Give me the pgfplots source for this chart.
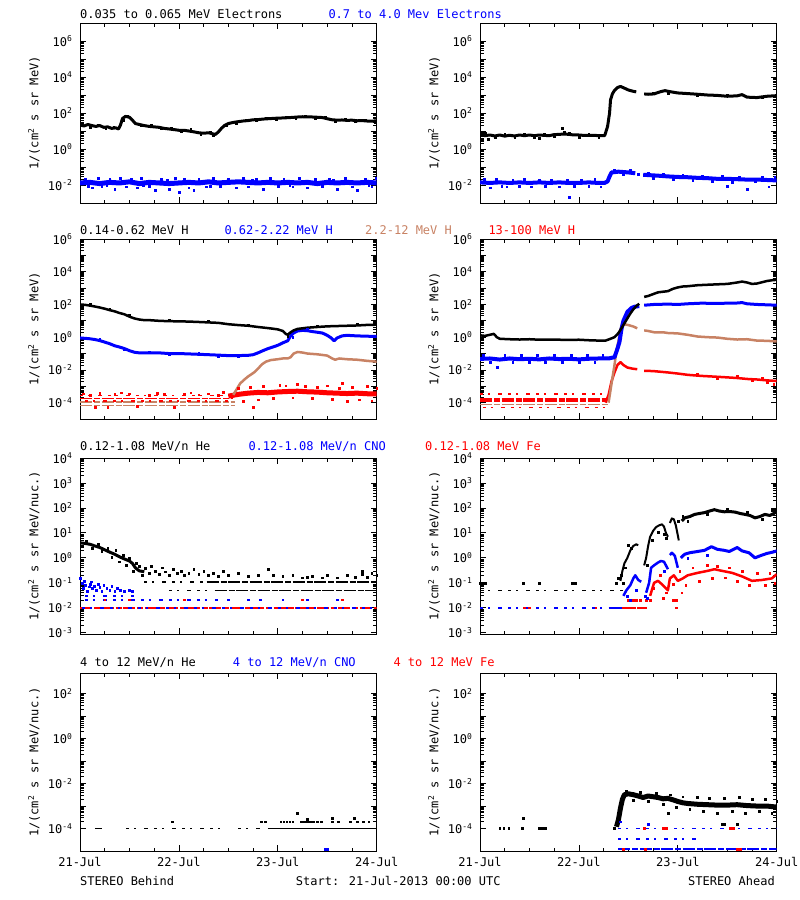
\documentclass[border=0pt]{standalone}
\usepackage{fontspec}
\setmainfont{DejaVu Sans Mono}
\usepackage{pgfplots}
\pgfplotsset{compat=1.18}
\definecolor{iblue}{RGB}{0,0,255}
\definecolor{ired}{RGB}{255,0,0}
\definecolor{ibrown}{RGB}{200,130,100}
\newcommand\TT{\fontsize{12}{14}\selectfont}
\newcommand\EE[1]{10\textsuperscript{#1}}
\pgfplotsset{
 every axis/.append style={scale only axis, width=296.7pt, anchor=north west,
  xmin=0, xmax=3,
  xtick={0,1,2,3}, minor xtick={0.25,0.5,0.75,1.25,1.5,1.75,2.25,2.5,2.75},
  tick align=inside, tick pos=both,
  major tick length=6pt, minor tick length=3.5pt,
  every tick/.append style={black, line width=0.8pt},
  axis line style={line width=0.9pt},
  yticklabel style={font=\TT, xshift=-4pt}},
}
\tikzset{
 mydots/.style={only marks, mark=square*, mark size=0.9pt, mark options={draw=none}},
 myband/.style={line width=#1, line join=round, mark=none},
 mysparse/.style={line width=1.8pt, dash pattern=on 3pt off 5pt on 2pt off 8pt on 4pt off 6pt, mark=none},
 mydense/.style={line width=1.8pt, dash pattern=on 12pt off 2pt on 6pt off 1.5pt, mark=none},
}
\begin{document}
\begin{tikzpicture}
\useasboundingbox (0,0) rectangle (800pt,-900pt);
% ---------- titles ----------
\node[anchor=base west, font=\TT, inner sep=0] at (80pt,-18.3pt) {0.035 to 0.065 MeV Electrons};
\node[anchor=base west, font=\TT, inner sep=0, iblue] at (328.3pt,-18.3pt) {0.7 to 4.0 Mev Electrons};
\node[anchor=base west, font=\TT, inner sep=0] at (80pt,-234.3pt) {0.14-0.62 MeV H};
\node[anchor=base west, font=\TT, inner sep=0, iblue] at (224.3pt,-234.3pt) {0.62-2.22 MeV H};
\node[anchor=base west, font=\TT, inner sep=0, ibrown] at (365pt,-234.3pt) {2.2-12 MeV H};
\node[anchor=base west, font=\TT, inner sep=0, ired] at (488.3pt,-234.3pt) {13-100 MeV H};
\node[anchor=base west, font=\TT, inner sep=0] at (80pt,-450pt) {0.12-1.08 MeV/n He};
\node[anchor=base west, font=\TT, inner sep=0, iblue] at (248.3pt,-450pt) {0.12-1.08 MeV/n CNO};
\node[anchor=base west, font=\TT, inner sep=0, ired] at (425pt,-450pt) {0.12-1.08 MeV Fe};
\node[anchor=base west, font=\TT, inner sep=0] at (80pt,-666.7pt) {4 to 12 MeV/n He};
\node[anchor=base west, font=\TT, inner sep=0, iblue] at (232.7pt,-666.7pt) {4 to 12 MeV/n CNO};
\node[anchor=base west, font=\TT, inner sep=0, ired] at (393.3pt,-666.7pt) {4 to 12 MeV Fe};
% ---------- y labels ----------
\foreach \xx in {34pt,434pt}{
 \node[rotate=90, font=\TT] at (\xx,-113pt) {1/(cm\textsuperscript{2} s sr MeV)};
 \node[rotate=90, font=\TT] at (\xx,-329pt) {1/(cm\textsuperscript{2} s sr MeV)};
 \node[rotate=90, font=\TT] at (\xx,-546pt) {1/(cm\textsuperscript{2} s sr MeV/nuc.)};
 \node[rotate=90, font=\TT] at (\xx,-762pt) {1/(cm\textsuperscript{2} s sr MeV/nuc.)};
}
% ---------- bottom texts ----------
\node[anchor=base west, font=\TT, inner sep=0] at (80pt,-885.7pt) {STEREO Behind};
\node[anchor=base west, font=\TT, inner sep=0] at (295.7pt,-885.7pt) {Start: 21-Jul-2013 00:00 UTC};
\node[anchor=base east, font=\TT, inner sep=0] at (775pt,-885.7pt) {STEREO Ahead};

% ================= ROW 1 LEFT =================
\begin{axis}[ymode=log, at={(80pt,-23pt)}, height=180pt, ymin=1e-3, ymax=1e7,
 ytick={1e-2,1e-1,1,1e1,1e2,1e3,1e4,1e5,1e6},
 yticklabels={\EE{-2},,\EE{0},,\EE{2},,\EE{4},,\EE{6}}, xticklabels={}]
\addplot[myband=5pt, iblue] coordinates {(0,0.013)(0.1,0.014)(0.2,0.012)(0.3,0.014)(0.4,0.013)(0.5,0.015)(0.6,0.012)(0.7,0.014)(0.8,0.013)(0.9,0.012)(1.0,0.013)(1.1,0.014)(1.2,0.013)(1.3,0.015)(1.4,0.013)(1.5,0.014)(1.6,0.015)(1.7,0.014)(1.8,0.013)(1.9,0.014)(2.0,0.013)(2.1,0.014)(2.2,0.013)(2.3,0.014)(2.4,0.012)(2.5,0.014)(2.6,0.013)(2.7,0.014)(2.8,0.013)(2.9,0.014)(3.0,0.013)};
\addplot[mydots, iblue] coordinates {(0.05,0.022)(0.12,0.007)(0.18,0.025)(0.22,0.009)(0.3,0.02)(0.35,0.006)(0.41,0.024)(0.47,0.008)(0.52,0.021)(0.58,0.007)(0.62,0.023)(0.7,0.009)(0.76,0.005)(0.82,0.02)(0.9,0.006)(0.96,0.025)(1.0,0.004)(1.05,0.02)(1.1,0.007)(1.15,0.005)(1.2,0.022)(1.28,0.008)(1.35,0.025)(1.42,0.009)(1.5,0.021)(1.58,0.007)(1.65,0.024)(1.7,0.008)(1.78,0.02)(1.85,0.006)(1.92,0.023)(2.0,0.009)(2.06,0.021)(2.15,0.008)(2.22,0.024)(2.3,0.007)(2.38,0.02)(2.45,0.009)(2.52,0.022)(2.6,0.006)(2.68,0.024)(2.75,0.008)(2.8,0.005)(2.88,0.021)(2.95,0.008)(2.99,0.025)(0.08,0.009)(0.27,0.01)(0.64,0.01)(0.88,0.018)(1.32,0.009)(1.74,0.018)(2.12,0.01)(2.56,0.018)(2.92,0.01)};
\addplot[myband=3pt, black] coordinates {(0,22)(0.04,19)(0.08,23)(0.12,20)(0.16,18)(0.2,20)(0.24,16)(0.28,17)(0.32,14)(0.36,15)(0.39,13)(0.41,22)(0.43,50)(0.46,65)(0.5,58)(0.53,40)(0.56,26)(0.6,23)(0.65,20)(0.7,18)(0.75,17)(0.8,16)(0.85,14)(0.9,13)(0.95,12)(1.0,11)(1.05,11)(1.1,10)(1.15,9)(1.2,8)(1.25,7.5)(1.3,8)(1.34,7)(1.37,6.5)(1.4,9)(1.43,14)(1.46,20)(1.5,26)(1.55,30)(1.6,33)(1.65,36)(1.7,38)(1.75,42)(1.8,43)(1.85,46)(1.9,48)(1.95,50)(2.0,52)(2.05,53)(2.1,55)(2.15,57)(2.2,60)(2.25,62)(2.3,61)(2.35,60)(2.4,58)(2.45,56)(2.5,48)(2.55,42)(2.6,40)(2.65,41)(2.7,39)(2.75,40)(2.8,37)(2.85,38)(2.9,36)(2.95,35)(3.0,37)};
\addplot[mydots, black] coordinates {(0.02,26)(0.1,17)(0.18,22)(0.26,14)(0.34,17)(0.44,40)(0.48,70)(0.62,20)(0.72,21)(0.82,14)(0.92,15)(1.02,9.5)(1.12,12)(1.22,6.5)(1.32,9)(1.35,5.5)(1.48,22)(1.58,28)(1.68,42)(1.78,38)(1.88,52)(1.98,46)(2.08,60)(2.18,52)(2.28,68)(2.38,52)(2.48,62)(2.58,36)(2.68,45)(2.78,34)(2.88,41)(2.98,32)};
\end{axis}

% ================= ROW 1 RIGHT =================
\begin{axis}[ymode=log, at={(480pt,-23pt)}, height=180pt, ymin=1e-3, ymax=1e7,
 ytick={1e-2,1e-1,1,1e1,1e2,1e3,1e4,1e5,1e6},
 yticklabels={\EE{-2},,\EE{0},,\EE{2},,\EE{4},,\EE{6}}, xticklabels={}]
\addplot[myband=4pt, iblue] coordinates {(0,0.014)(0.1,0.013)(0.2,0.014)(0.3,0.013)(0.4,0.014)(0.5,0.013)(0.6,0.014)(0.7,0.013)(0.8,0.014)(0.9,0.013)(1.0,0.013)(1.1,0.014)(1.2,0.013)(1.26,0.013)(1.29,0.016)(1.31,0.03)(1.33,0.05)(1.4,0.055)(1.5,0.05)(1.57,0.045)};
\addplot[myband=4pt, iblue] coordinates {(1.65,0.037)(1.8,0.033)(1.9,0.03)(2.0,0.028)(2.1,0.027)(2.2,0.025)(2.3,0.024)(2.4,0.022)(2.5,0.022)(2.6,0.021)(2.7,0.02)(2.8,0.02)(2.9,0.019)(3.0,0.018)};
\addplot[mydots, iblue] coordinates {(0.04,0.022)(0.1,0.007)(0.16,0.02)(0.22,0.009)(0.27,0.008)(0.33,0.018)(0.4,0.009)(0.45,0.02)(0.52,0.008)(0.6,0.019)(0.66,0.009)(0.72,0.018)(0.8,0.008)(0.88,0.019)(0.9,0.002)(0.95,0.009)(1.02,0.018)(1.1,0.009)(1.16,0.02)(1.22,0.008)(1.36,0.07)(1.45,0.04)(1.52,0.065)(1.6,0.04)(1.7,0.045)(1.75,0.025)(1.85,0.04)(1.95,0.02)(2.05,0.035)(2.15,0.018)(2.25,0.032)(2.35,0.017)(2.45,0.03)(2.5,0.009)(2.55,0.015)(2.62,0.028)(2.7,0.006)(2.78,0.016)(2.85,0.028)(2.92,0.008)(2.98,0.027)};
\addplot[myband=3pt, black] coordinates {(0,6.5)(0.05,5.5)(0.1,6)(0.15,5.3)(0.2,6)(0.25,5.2)(0.3,5.8)(0.35,5.3)(0.4,6)(0.45,5.5)(0.5,6)(0.55,5.5)(0.6,6)(0.65,5.7)(0.7,5.5)(0.75,6.3)(0.8,6.5)(0.85,6.8)(0.9,6.5)(0.95,6)(1.0,6)(1.05,5.7)(1.1,5.7)(1.15,5.8)(1.2,5.5)(1.26,5.5)(1.27,8)(1.29,18)(1.31,100)(1.32,550)(1.34,1200)(1.36,1800)(1.39,2600)(1.42,3000)(1.46,2400)(1.5,1900)(1.55,1600)(1.58,1500)};
\addplot[myband=3pt, black] coordinates {(1.66,1150)(1.7,1100)(1.76,1150)(1.82,1500)(1.87,1750)(1.93,1500)(2.0,1300)(2.1,1200)(2.2,1100)(2.3,1000)(2.4,950)(2.5,850)(2.6,900)(2.65,1050)(2.7,760)(2.8,720)(2.9,850)(3.0,920)};
\addplot[mydots, black] coordinates {(0.02,3)(0.08,3.6)(0.83,14)(0.85,9)(0.6,3.8)(0.05,7.5)(0.15,4.5)(0.25,7)(0.35,4.4)(0.45,7)(0.55,4.6)(0.65,7)(0.75,4.8)(0.9,7.8)(1.0,4.7)(1.1,7)(1.2,4.6)(1.75,1300)(1.9,1300)(2.2,950)(2.5,950)(2.85,780)};
\end{axis}

% ================= ROW 2 LEFT =================
\begin{axis}[ymode=log, at={(80pt,-239pt)}, height=180pt, ymin=1e-5, ymax=1e6,
 ytick={1e-4,1e-3,1e-2,1e-1,1,1e1,1e2,1e3,1e4,1e5,1e6},
 yticklabels={\EE{-4},,\EE{-2},,\EE{0},,\EE{2},,\EE{4},,\EE{6}}, xticklabels={}]
\addplot[mysparse, ired] coordinates {(0,2.7e-4)(1.55,2.7e-4)};
\addplot[mydense, ired] coordinates {(0,1.8e-4)(1.55,1.8e-4)};
\addplot[mydense, ibrown] coordinates {(0,1.07e-4)(1.57,1.07e-4)};
\addplot[mydense, ibrown] coordinates {(0,6.7e-5)(1.57,6.7e-5)};
\addplot[mysparse, ired] coordinates {(0.05,1.3e-4)(1.5,1.3e-4)};
\addplot[mydots, ired] coordinates {(0.03,3.5e-4)(0.1,3e-4)(0.15,5e-5)(0.2,3.6e-4)(0.28,5e-5)(0.35,3.2e-4)(0.42,4e-4)(0.5,3.5e-4)(0.58,6e-5)(0.7,3e-4)(0.78,3.8e-4)(0.85,3.4e-4)(0.95,5e-5)(1.05,3.3e-4)(1.12,4e-4)(1.2,3.1e-4)(1.3,3.5e-4)(1.4,2.9e-4)(1.45,4.5e-4)(1.6,8e-4)(1.65,1.2e-4)(1.72,9e-4)(1.8,1.5e-4)(1.85,1e-3)(1.95,1.8e-4)(2.02,1.2e-3)(2.08,1.1e-3)(2.15,2e-4)(2.2,1.3e-3)(2.28,1.0e-3)(2.35,1.8e-4)(2.4,9e-4)(2.5,1.1e-3)(2.55,1.6e-4)(2.62,8e-4)(2.7,1.2e-4)(2.75,9e-4)(2.82,1.5e-4)(2.9,1.0e-3)(2.95,1.3e-4)(3.0,8e-4)(1.75,5e-5)(2.65,1.5e-3)};
\addplot[myband=5pt, ired] coordinates {(1.5,2.5e-4)(1.6,3.2e-4)(1.7,3.8e-4)(1.8,4.2e-4)(1.9,4e-4)(2.0,4.5e-4)(2.1,4.8e-4)(2.2,5e-4)(2.3,4.6e-4)(2.4,4.4e-4)(2.5,4e-4)(2.6,3.8e-4)(2.7,3.6e-4)(2.8,3.8e-4)(2.9,3.5e-4)(3.0,3.4e-4)};
\addplot[myband=2.5pt, ibrown] coordinates {(1.55,3e-4)(1.58,6e-4)(1.62,1.5e-3)(1.66,2.5e-3)(1.7,4e-3)(1.76,7e-3)(1.8,0.012)(1.84,0.022)(1.88,0.032)(1.93,0.04)(2.0,0.045)(2.05,0.05)(2.1,0.05)(2.13,0.06)(2.16,0.1)(2.2,0.125)(2.25,0.115)(2.3,0.1)(2.4,0.09)(2.5,0.075)(2.55,0.05)(2.58,0.042)(2.62,0.05)(2.7,0.045)(2.8,0.042)(2.9,0.036)(3.0,0.032)};
\addplot[myband=3pt, iblue] coordinates {(0,0.9)(0.05,0.85)(0.1,0.8)(0.15,0.72)(0.2,0.62)(0.25,0.5)(0.3,0.4)(0.35,0.3)(0.4,0.25)(0.45,0.2)(0.5,0.15)(0.55,0.12)(0.6,0.11)(0.7,0.11)(0.8,0.11)(0.9,0.1)(1.0,0.1)(1.1,0.095)(1.2,0.09)(1.3,0.085)(1.4,0.08)(1.5,0.075)(1.6,0.075)(1.7,0.078)(1.75,0.085)(1.8,0.11)(1.85,0.15)(1.9,0.2)(1.95,0.25)(2.0,0.32)(2.05,0.45)(2.1,0.6)(2.13,1.2)(2.16,1.8)(2.2,2.4)(2.25,2.6)(2.3,2.5)(2.35,2.2)(2.4,2.0)(2.45,1.8)(2.5,1.3)(2.54,0.9)(2.57,0.6)(2.6,0.9)(2.65,1.2)(2.7,1.3)(2.8,1.2)(2.9,1.15)(3.0,1.1)};
\addplot[mydots, iblue] coordinates {(0.2,0.75)(0.45,0.17)(0.7,0.13)(0.9,0.085)(1.2,0.105)(1.4,0.068)(1.6,0.065)(2.15,1.0)(2.3,3)(2.75,1.4)};
\addplot[myband=2.5pt, black] coordinates {(0,100)(0.05,95)(0.1,85)(0.15,75)(0.2,65)(0.25,55)(0.3,45)(0.35,38)(0.4,30)(0.45,25)(0.5,18)(0.55,14)(0.6,12)(0.65,11)(0.7,11)(0.8,10)(0.9,9.5)(1.0,9.3)(1.1,9)(1.2,8.5)(1.3,8)(1.4,7.5)(1.5,6.2)(1.6,5.5)(1.7,5)(1.8,4.2)(1.9,3.6)(1.95,3.3)(2.0,3)(2.05,2.4)(2.08,1.6)(2.1,1.4)(2.13,2.0)(2.16,2.6)(2.2,3.2)(2.3,3.8)(2.4,4.2)(2.5,4.6)(2.6,4.8)(2.7,5)(2.8,5.2)(2.9,5.6)(3.0,5.8)};
\addplot[mydots, black] coordinates {(0.1,100)(0.3,52)(0.5,21)(0.9,11)(1.3,9.5)(1.7,5.8)(2.1,1.2)(2.4,4.8)(2.8,6)};
\end{axis}

% ================= ROW 2 RIGHT =================
\begin{axis}[ymode=log, at={(480pt,-239pt)}, height=180pt, ymin=1e-5, ymax=1e6,
 ytick={1e-4,1e-3,1e-2,1e-1,1,1e1,1e2,1e3,1e4,1e5,1e6},
 yticklabels={\EE{-4},,\EE{-2},,\EE{0},,\EE{2},,\EE{4},,\EE{6}}, xticklabels={}]
\addplot[mysparse, ired] coordinates {(0,3.2e-4)(1.27,3.2e-4)};
\addplot[mydense, ired] coordinates {(0,1.7e-4)(1.27,1.7e-4)};
\addplot[mydense, ired] coordinates {(0,1.2e-4)(1.27,1.2e-4)};
\addplot[mydense, ibrown] coordinates {(0,7.8e-5)(1.3,7.8e-5)};
\addplot[mysparse, ired] coordinates {(0.03,5e-5)(1.27,5e-5)};
\addplot[myband=2.5pt, ired] coordinates {(1.27,1e-4)(1.3,3e-4)(1.33,2e-3)(1.36,7e-3)(1.39,0.02)(1.42,0.03)(1.45,0.02)(1.49,0.014)(1.54,0.012)(1.59,0.011)};
\addplot[myband=2.5pt, ired] coordinates {(1.66,0.0088)(1.75,0.0085)(1.9,0.007)(2.0,0.006)(2.1,0.005)(2.24,0.0043)(2.4,0.0038)(2.5,0.0035)(2.6,0.0032)(2.7,0.0028)(2.8,0.0026)(2.9,0.0023)(3.0,0.0021)};
\addplot[mydots, ired] coordinates {(2.2,0.0055)(2.4,0.003)(2.6,0.0042)(2.75,0.0022)(2.85,0.0033)(2.97,0.0013)(2.9,0.0017)};
\addplot[myband=2.5pt, ibrown] coordinates {(1.3,1e-4)(1.33,1.5e-3)(1.36,0.02)(1.38,0.15)(1.4,0.6)(1.42,3)(1.44,6.5)(1.47,6)(1.5,5.5)(1.55,4.5)(1.59,3.5)};
\addplot[myband=2.5pt, ibrown] coordinates {(1.66,2.6)(1.7,2.4)(1.76,2.0)(1.85,2.0)(1.9,1.8)(2.0,1.7)(2.1,1.4)(2.2,1.1)(2.3,1.0)(2.4,0.95)(2.5,0.8)(2.6,0.72)(2.7,0.75)(2.8,0.62)(2.9,0.6)(3.0,0.55)};
\addplot[myband=4pt, iblue] coordinates {(0,0.047)(0.1,0.05)(0.2,0.043)(0.3,0.05)(0.4,0.045)(0.5,0.048)(0.6,0.044)(0.7,0.05)(0.8,0.046)(0.9,0.048)(1.0,0.044)(1.1,0.048)(1.2,0.05)(1.3,0.05)(1.36,0.06)(1.39,0.2)(1.41,0.5)(1.43,3)(1.45,10)(1.49,35)(1.53,60)(1.56,72)(1.61,80)};
\addplot[myband=3pt, iblue] coordinates {(1.66,90)(1.76,100)(1.9,105)(2.0,100)(2.1,110)(2.24,120)(2.4,115)(2.5,120)(2.58,120)(2.65,130)(2.7,110)(2.8,100)(2.9,95)(3.0,90)};
\addplot[mydots, iblue] coordinates {(0.03,0.08)(0.1,0.03)(0.17,0.014)(0.25,0.075)(0.33,0.028)(0.42,0.08)(0.5,0.03)(0.58,0.075)(0.66,0.03)(0.75,0.08)(0.83,0.028)(0.92,0.075)(1.0,0.03)(1.08,0.08)(1.16,0.028)(1.24,0.075)};
\addplot[myband=2.5pt, black] coordinates {(0,1.3)(0.05,1.2)(0.1,1.4)(0.14,1.6)(0.17,1.0)(0.2,0.8)(0.3,0.75)(0.4,0.72)(0.5,0.75)(0.6,0.7)(0.7,0.72)(0.8,0.7)(0.9,0.68)(1.0,0.7)(1.1,0.65)(1.2,0.62)(1.27,0.62)(1.32,0.8)(1.36,1.0)(1.4,1.8)(1.43,3.5)(1.46,7)(1.49,14)(1.52,28)(1.55,50)(1.58,80)(1.61,110)};
\addplot[myband=2.5pt, black] coordinates {(1.66,290)(1.7,330)(1.76,450)(1.8,550)(1.85,600)(1.9,650)(1.95,900)(2.0,1100)(2.05,1250)(2.1,1300)(2.2,1500)(2.3,1600)(2.4,1700)(2.5,1800)(2.6,2200)(2.65,2500)(2.7,2200)(2.75,1800)(2.8,1900)(2.9,2700)(2.95,3000)(3.0,3200)};
\end{axis}

% ================= ROW 3 LEFT =================
\begin{axis}[ymode=log, at={(80pt,-458pt)}, height=176pt, ymin=8.9e-4, ymax=1e4,
 ytick={1e-3,1e-2,1e-1,1,1e1,1e2,1e3,1e4},
 yticklabels={\EE{-3},\EE{-2},\EE{-1},\EE{0},\EE{1},\EE{2},\EE{3},\EE{4}}, xticklabels={}]
\addplot[mydense, ired] coordinates {(0,0.01)(3,0.01)};
\addplot[mysparse, iblue] coordinates {(0.02,0.0101)(3,0.0101)};
\addplot[mysparse, iblue] coordinates {(0.05,0.021)(1.4,0.021)};
\addplot[mydots, iblue] coordinates {(1.5,0.021)(1.7,0.021)(1.82,0.021)(2.05,0.021)(2.3,0.021)(2.6,0.021)};
\addplot[mydots, ired] coordinates {(0.25,0.021)(0.5,0.021)(1.05,0.021)(2.25,0.021)(2.65,0.021)};
\addplot[mysparse, iblue] coordinates {(0.05,0.03)(0.55,0.03)};
\addplot[mydots, iblue] coordinates {(0.0,0.15)(0.02,0.1)(0.03,0.06)(0.05,0.08)(0.07,0.045)(0.09,0.07)(0.1,0.09)(0.12,0.06)(0.14,0.075)(0.16,0.05)(0.18,0.09)(0.2,0.065)(0.22,0.045)(0.24,0.08)(0.27,0.06)(0.3,0.05)(0.32,0.075)(0.35,0.045)(0.38,0.06)(0.41,0.05)(0.45,0.045)(0.5,0.05)(0.53,0.045)(0.04,0.12)(0.11,0.11)};
\addplot[myband=3pt, black] coordinates {(0,4)(0.05,3.8)(0.1,3.5)(0.15,3)(0.2,2.6)(0.25,2.1)(0.3,1.7)(0.35,1.4)(0.4,1.1)(0.45,0.9)(0.5,0.75)(0.53,0.6)(0.56,0.4)(0.6,0.3)(0.65,0.28)};
\addplot[mydots, black] coordinates {(0.02,3)(0.06,4.6)(0.12,2.4)(0.18,3.6)(0.22,1.8)(0.28,2.4)(0.32,1.1)(0.36,2)(0.4,0.7)(0.44,1.3)(0.47,0.5)(0.5,1.0)(0.54,0.3)(0.57,0.6)(0.6,0.45)(0.63,0.2)(0.66,0.38)(0.7,0.25)(0.72,0.45)(0.76,0.3)(0.8,0.22)(0.83,0.4)(0.86,0.28)(0.9,0.2)(0.94,0.35)(0.98,0.25)(1.02,0.3)(1.05,0.2)(1.1,0.25)(1.15,0.35)(1.2,0.22)(1.25,0.3)(1.3,0.2)(1.35,0.25)(1.4,0.18)(1.45,0.3)(1.5,0.2)(1.6,0.25)(1.7,0.18)(1.8,0.2)(1.9,0.35)(1.95,0.2)(2.05,0.18)(2.15,0.2)(2.25,0.16)(2.35,0.18)(2.45,0.16)(2.5,0.2)(2.6,0.16)(2.7,0.2)(2.78,0.17)(2.85,0.22)(2.9,0.17)(2.95,0.25)(3.0,0.2)(2.85,0.3)(2.3,0.17)};
\addplot[mysparse, black] coordinates {(0.65,0.105)(1.28,0.105)};
\addplot[mydense, black] coordinates {(1.28,0.105)(3,0.105)};
\addplot[mysparse, black] coordinates {(0.9,0.049)(1.36,0.049)};
\addplot[mydense, black] coordinates {(1.36,0.049)(3,0.049)};
\end{axis}

% ================= ROW 3 RIGHT =================
\begin{axis}[ymode=log, at={(480pt,-458pt)}, height=176pt, ymin=8.9e-4, ymax=1e4,
 ytick={1e-3,1e-2,1e-1,1,1e1,1e2,1e3,1e4},
 yticklabels={\EE{-3},\EE{-2},\EE{-1},\EE{0},\EE{1},\EE{2},\EE{3},\EE{4}}, xticklabels={}]
\addplot[mysparse, iblue] coordinates {(0.0,0.01)(1.45,0.01)};
\addplot[mydots, ired] coordinates {(0.45,0.01)(0.5,0.01)(1.17,0.01)(1.45,0.01)(1.48,0.01)(1.5,0.01)(1.53,0.01)(1.56,0.01)(1.6,0.01)(1.62,0.01)(1.65,0.01)(1.67,0.01)(1.98,0.01)(1.5,0.02)(1.55,0.02)(1.58,0.02)(1.62,0.02)(1.68,0.02)(1.72,0.02)(1.95,0.02)(1.98,0.02)};
\addplot[mydense, iblue] coordinates {(1.3,0.0101)(1.45,0.0101)};
\addplot[mysparse, black] coordinates {(0,0.049)(1.45,0.049)};
\addplot[mydots, black] coordinates {(0.0,0.1)(0.02,0.1)(0.05,0.1)(0.44,0.1)(0.6,0.1)(0.93,0.1)(0.96,0.1)(1.4,0.15)(1.45,0.1)};
\addplot[myband=2.5pt, ired] coordinates {(1.72,0.03)(1.76,0.1)(1.8,0.12)(1.85,0.08)(1.9,0.05)(1.92,0.15)(1.96,0.2)(2.0,0.12)(2.05,0.15)(2.1,0.2)(2.2,0.25)(2.3,0.3)(2.37,0.35)(2.45,0.3)(2.55,0.25)(2.65,0.18)(2.75,0.12)(2.85,0.13)(2.95,0.15)(3.0,0.22)};
\addplot[mydots, ired] coordinates {(1.75,0.06)(1.82,0.2)(1.88,0.04)(1.95,0.09)(2.02,0.3)(2.08,0.08)(2.15,0.4)(2.22,0.12)(2.3,0.5)(2.35,0.15)(2.4,0.45)(2.48,0.16)(2.52,0.4)(2.6,0.12)(2.65,0.3)(2.72,0.08)(2.8,0.25)(2.88,0.08)(2.93,0.25)(2.98,0.1)(2.04,0.04)(1.85,0.025)};
\addplot[myband=2.5pt, iblue] coordinates {(1.45,0.03)(1.48,0.05)(1.52,0.08)(1.55,0.15)(1.57,0.2)(1.6,0.13)(1.63,0.11)};
\addplot[myband=2.5pt, iblue] coordinates {(1.68,0.04)(1.71,0.1)(1.73,0.4)(1.76,0.5)(1.8,0.65)(1.83,0.75)(1.86,0.7)(1.88,0.5)(1.9,0.35)};
\addplot[myband=2.5pt, iblue] coordinates {(1.92,1.3)(1.94,1.6)(1.97,1.2)(2.0,0.4)};
\addplot[myband=3pt, iblue] coordinates {(2.03,1.0)(2.07,1.4)(2.12,1.6)(2.2,1.8)(2.27,2.0)(2.34,2.8)(2.4,2.2)(2.47,2.0)(2.52,1.8)(2.6,2.6)(2.65,1.9)(2.72,1.6)(2.78,1.0)(2.83,1.2)(2.9,1.5)(2.96,1.7)(3.0,1.9)};
\addplot[mydots, iblue] coordinates {(1.49,0.03)(1.52,0.02)(1.58,0.05)(1.67,0.03)(1.69,0.025)(1.86,0.3)(2.1,1.0)(2.3,1.3)};
\addplot[myband=2pt, black] coordinates {(1.42,0.12)(1.44,0.3)(1.46,0.6)(1.49,1.0)(1.52,2.0)(1.55,3.0)(1.58,3.5)(1.6,3.2)};
\addplot[myband=2pt, black] coordinates {(1.66,0.5)(1.68,1.0)(1.7,3)(1.72,7)(1.75,12)(1.78,17)(1.81,20)(1.84,22)(1.86,18)(1.88,10)(1.9,7)};
\addplot[myband=2pt, black] coordinates {(1.92,25)(1.94,38)(1.96,35)(1.98,20)(2.0,8)(2.01,5)};
\addplot[myband=3pt, black] coordinates {(2.04,30)(2.07,40)(2.12,45)(2.17,55)(2.22,60)(2.27,65)(2.32,75)(2.37,85)(2.42,75)(2.47,70)(2.52,72)(2.58,68)(2.63,60)(2.68,55)(2.73,50)(2.78,40)(2.83,45)(2.88,55)(2.93,50)(2.97,60)(3.0,70)};
\addplot[mydots, black] coordinates {(1.43,0.2)(1.47,0.4)(1.5,3.2)(1.53,2.5)(1.69,0.5)(1.74,5)(1.8,11)(1.86,9)(1.88,6)(2.0,30)(2.05,45)(2.1,30)(2.3,55)(2.5,90)(2.7,70)(2.85,35)(2.95,80)(1.38,0.1)};
\end{axis}

% ================= ROW 4 LEFT =================
\begin{axis}[ymode=log, at={(80pt,-673pt)}, height=178pt, ymin=1e-5, ymax=830,
 ytick={1e-4,1e-3,1e-2,1e-1,1,1e1,1e2},
 yticklabels={\EE{-4},,\EE{-2},,\EE{0},,\EE{2}},
 xticklabels={21-Jul,22-Jul,23-Jul,24-Jul}, xticklabel style={font=\TT, yshift=-3pt}]
\addplot[line width=1.3pt, black, mark=none] coordinates {(0.15,1e-4)(0.22,1e-4)};
\addplot[mysparse, black, line width=1.3pt] coordinates {(0.47,1e-4)(1.5,1e-4)};
\addplot[mysparse, black, line width=1.3pt] coordinates {(1.6,1e-4)(1.88,1e-4)};
\addplot[line width=1.3pt, black, mark=none] coordinates {(1.9,1e-4)(2.98,1e-4)};
\addplot[mydots, black] coordinates {(0.93,2e-4)(1.83,2e-4)(1.87,2e-4)(2.03,2e-4)(2.06,2e-4)(2.09,2e-4)(2.12,2e-4)(2.15,2e-4)(2.24,2e-4)(2.27,2e-4)(2.3,2e-4)(2.33,2e-4)(2.36,2e-4)(2.4,2e-4)(2.44,2e-4)(2.55,2e-4)(2.61,2e-4)(2.73,2e-4)(2.8,2e-4)(2.86,2e-4)(2.92,2e-4)(2.2,4.8e-4)(2.55,3e-4)(2.77,3e-4)(2.3,2.6e-4)};
\addplot[mydots, iblue] coordinates {(2.48,1.25e-5)(2.5,1.25e-5)};
\end{axis}

% ================= ROW 4 RIGHT =================
\begin{axis}[ymode=log, at={(480pt,-673pt)}, height=178pt, ymin=1e-5, ymax=830,
 ytick={1e-4,1e-3,1e-2,1e-1,1,1e1,1e2},
 yticklabels={\EE{-4},,\EE{-2},,\EE{0},,\EE{2}},
 xticklabels={21-Jul,22-Jul,23-Jul,24-Jul}, xticklabel style={font=\TT, yshift=-3pt}]
\addplot[mydots, black] coordinates {(0.2,1e-4)(0.24,1e-4)(0.29,1e-4)(0.43,1e-4)(0.44,3e-4)(0.6,1e-4)(0.63,1e-4)(0.66,1e-4)(1.36,1e-4)(1.4,2e-4)(1.9,5e-4)(2.45,1.5e-4)(2.47,1.5e-4)};
\addplot[mydense, iblue] coordinates {(1.4,1.2e-5)(3,1.2e-5)};
\addplot[mysparse, iblue] coordinates {(1.4,3.5e-5)(2.2,3.5e-5)};
\addplot[mysparse, iblue] coordinates {(1.4,1e-4)(3,1e-4)};
\addplot[mydots, iblue] coordinates {(1.42,2e-4)(1.7,1.5e-4)};
\addplot[mydots, ired] coordinates {(1.66,1e-4)(1.85,1e-4)(1.88,1e-4)(2.53,1e-4)(2.56,1e-4)(1.45,1.2e-5)(1.67,1.2e-5)(2.6,1.2e-5)(2.63,1.2e-5)};
\addplot[myband=5pt, black] coordinates {(1.38,1.2e-4)(1.4,2.5e-4)(1.42,8e-4)(1.44,2e-3)(1.46,3.2e-3)(1.5,3.5e-3)(1.55,3.2e-3)(1.6,2.8e-3)(1.65,2.4e-3)(1.7,2.8e-3)(1.75,2.6e-3)(1.8,2.4e-3)(1.85,2.1e-3)(1.9,2.2e-3)(1.95,1.9e-3)(2.0,1.6e-3)(2.05,1.4e-3)(2.1,1.3e-3)(2.15,1.25e-3)(2.2,1.2e-3)(2.3,1.15e-3)(2.4,1.1e-3)(2.5,1.1e-3)(2.6,1.15e-3)(2.7,1.05e-3)(2.8,1.0e-3)(2.9,1.0e-3)(3.0,9e-4)};
\addplot[mydots, black] coordinates {(1.48,4.5e-3)(1.55,1.8e-3)(1.62,4e-3)(1.7,1.6e-3)(1.78,3.8e-3)(1.85,1.2e-3)(1.92,3.2e-3)(1.98,9e-4)(2.05,2.6e-3)(2.12,7e-4)(2.2,2.4e-3)(2.26,6e-4)(2.32,2.2e-3)(2.4,5e-4)(2.47,2.2e-3)(2.55,6e-4)(2.62,2.5e-3)(2.68,5e-4)(2.75,2e-3)(2.82,6e-4)(2.88,2e-3)(2.95,5e-4)(3.0,1.6e-3)(2.6,1.5e-4)};
\end{axis}
\end{tikzpicture}
\end{document}
